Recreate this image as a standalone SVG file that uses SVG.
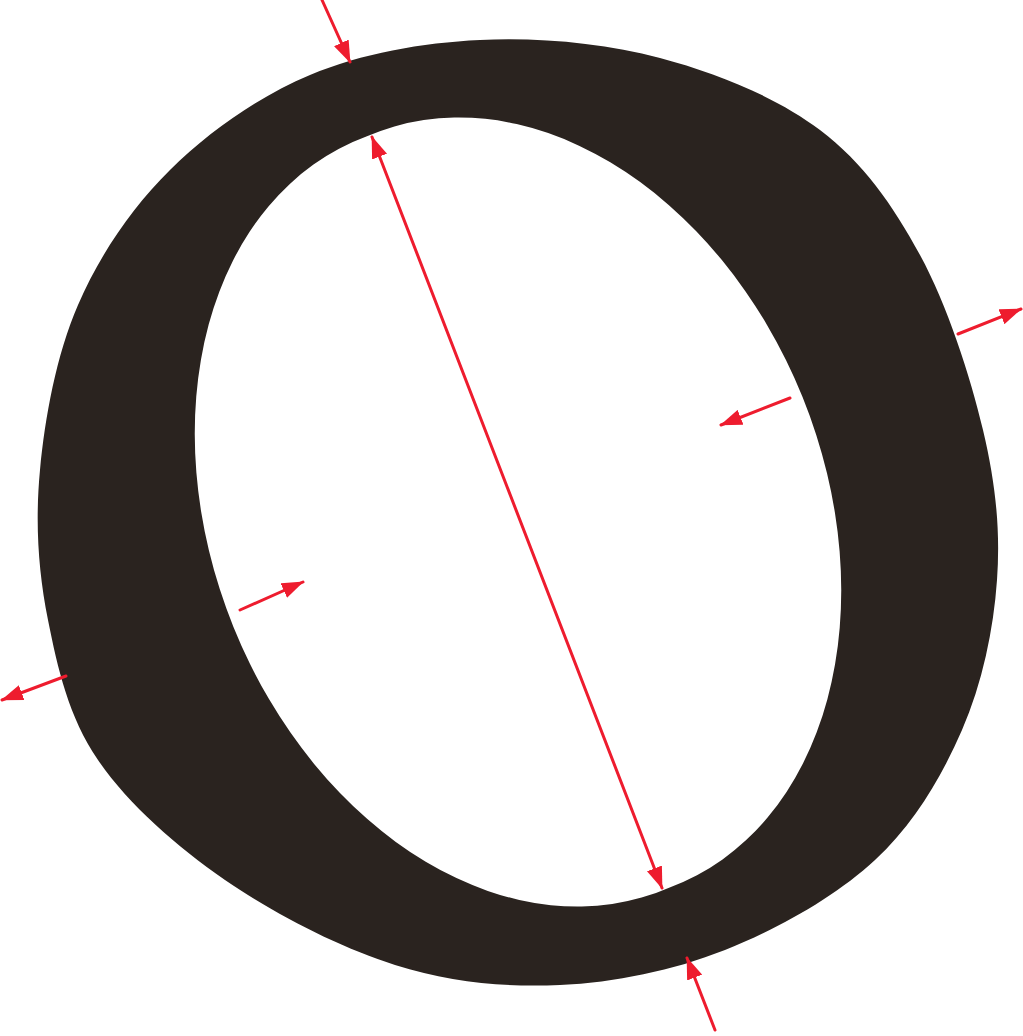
<svg xmlns="http://www.w3.org/2000/svg" width="1023" height="1036" viewBox="0 0 1023 1036">
  <style>
    .ink { fill: #2a231f; fill-rule: evenodd; }
    .dim { stroke: #ee1c2e; stroke-width: 3; fill: none; stroke-linecap: round; }
  </style>
  <defs>
    <marker id="ah" viewBox="0 0 22 16" refX="21" refY="8" markerWidth="22" markerHeight="16" markerUnits="userSpaceOnUse" orient="auto-start-reverse">
      <path d="M0,0 L22,8 L0,16 z" fill="#ee1c2e"/>
    </marker>
  </defs>
  <rect width="1023" height="1036" fill="#ffffff"/>
  <g id="letter-o">
    <path class="ink" d="M480,40 C538.3,37.2 603.3,43 660,58 C716.7,73 776.7,97.2 820,130 C863.3,162.8 892.8,205 920,255 C947.2,305 970.2,375.8 983,430 C995.8,484.2 1000.5,530 997,580 C993.5,630 982.3,683.3 962,730 C941.7,776.7 914.5,823.3 875,860 C835.5,896.7 777.5,929.2 725,950 C672.5,970.8 615,982.5 560,985 C505,987.5 450.8,982.5 395,965 C339.2,947.5 274.5,914.2 225,880 C175.5,845.8 127.5,803.3 98,760 C68.5,716.7 57.7,668.3 48,620 C38.3,571.7 35,522.5 40,470 C45,417.5 56.3,355 78,305 C99.7,255 131.3,208.3 170,170 C208.7,131.7 258.3,96.7 310,75 C361.7,53.3 421.7,42.8 480,40 Z M669.7,887.4 A405,300 68 1 0 366.3,136.6 A405,300 68 1 0 669.7,887.4 Z"/>
  </g>
  <g id="connectors">
    <line class="dim" x1="322" y1="0" x2="350" y2="62" marker-end="url(#ah)"/>
    <line class="dim" x1="372" y1="137" x2="662" y2="888" marker-start="url(#ah)" marker-end="url(#ah)"/>
    <line class="dim" x1="715" y1="1030" x2="687" y2="958" marker-end="url(#ah)"/>
    <line class="dim" x1="958" y1="334" x2="1021" y2="309" marker-end="url(#ah)"/>
    <line class="dim" x1="66" y1="676" x2="2" y2="700" marker-end="url(#ah)"/>
    <line class="dim" x1="790" y1="398" x2="721" y2="425" marker-end="url(#ah)"/>
    <line class="dim" x1="240" y1="610" x2="303" y2="582" marker-end="url(#ah)"/>
  </g>
</svg>
